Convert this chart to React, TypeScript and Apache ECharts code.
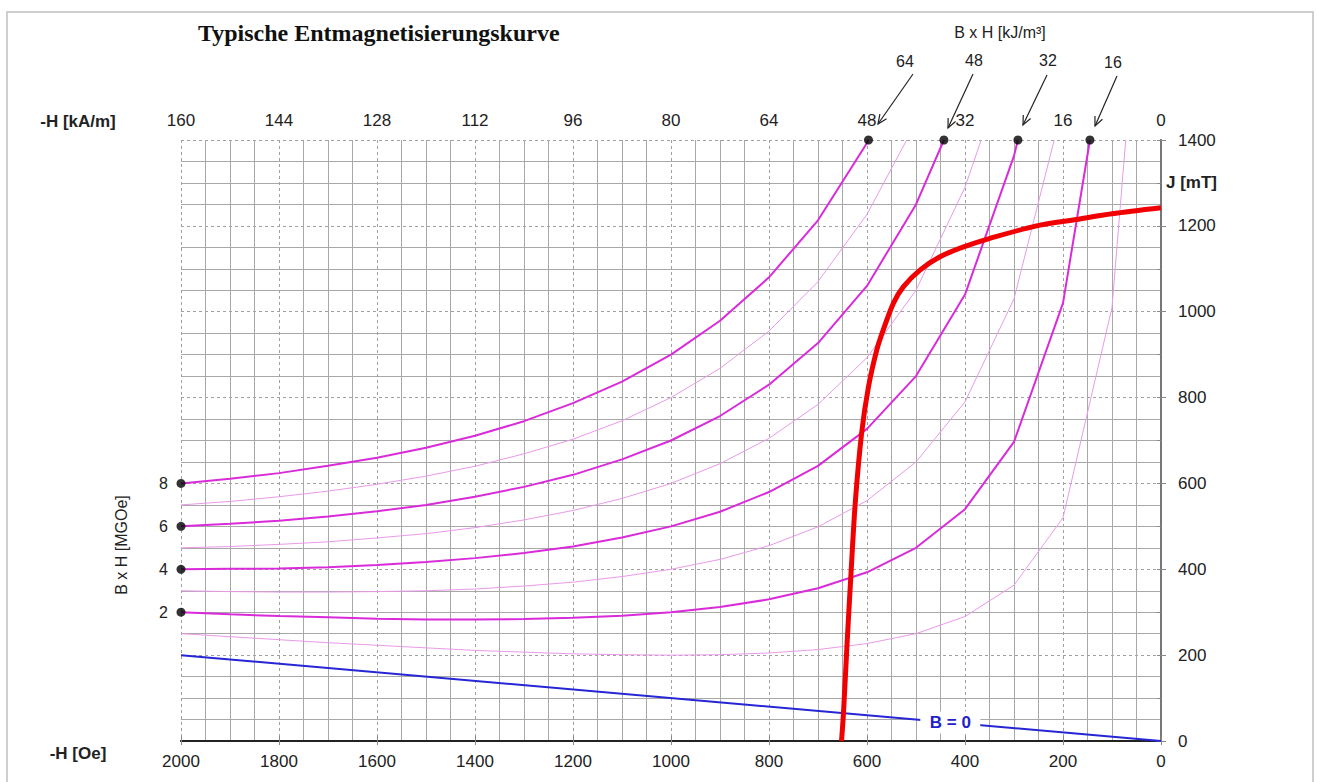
import React, { useEffect, useRef } from "react";
import * as echarts from "echarts";

// ---- data (H in Oe, J in mT) ----
const bh8 = [[2000,600],[1900,611],[1800,624],[1700,641],[1600,660],[1500,683],[1400,711],[1300,745],[1200,787],[1100,837],[1000,900],[900,979],[800,1080],[700,1213],[600,1393],[597,1400]];
const bh7 = [[2000,550],[1900,558],[1800,569],[1700,582],[1600,598],[1500,617],[1400,640],[1300,669],[1200,703],[1100,746],[1000,800],[900,868],[800,955],[700,1070],[600,1227],[519,1400]];
const bh6 = [[2000,500],[1900,506],[1800,513],[1700,523],[1600,535],[1500,550],[1400,569],[1300,592],[1200,620],[1100,656],[1000,700],[900,757],[800,830],[700,927],[600,1060],[500,1250],[443,1400]];
const bh5 = [[2000,450],[1900,453],[1800,458],[1700,464],[1600,473],[1500,483],[1400,497],[1300,515],[1200,537],[1100,565],[1000,600],[900,646],[800,705],[700,784],[600,893],[500,1050],[400,1290],[367,1400]];
const bh4 = [[2000,400],[1900,401],[1800,402],[1700,405],[1600,410],[1500,417],[1400,426],[1300,438],[1200,453],[1100,474],[1000,500],[900,534],[800,580],[700,641],[600,727],[500,850],[400,1040],[300,1363],[292,1400]];
const bh3 = [[2000,350],[1900,348],[1800,347],[1700,347],[1600,348],[1500,350],[1400,354],[1300,361],[1200,370],[1100,383],[1000,400],[900,423],[800,455],[700,499],[600,560],[500,650],[400,790],[300,1030],[218,1400]];
const bh2 = [[2000,300],[1900,295],[1800,291],[1700,288],[1600,285],[1500,283],[1400,283],[1300,284],[1200,287],[1100,292],[1000,300],[900,312],[800,330],[700,356],[600,393],[500,450],[400,540],[300,697],[200,1020],[145,1400]];
const bh1 = [[2000,250],[1900,243],[1800,236],[1700,229],[1600,223],[1500,217],[1400,211],[1300,207],[1200,203],[1100,201],[1000,200],[900,201],[800,205],[700,213],[600,227],[500,250],[400,290],[300,363],[200,520],[100,1010],[72,1400]];
const demagJ = [[0,1242],[100,1228],[172,1215],[254,1200],[349,1171],[403,1151],[451,1128],[492,1097],[526,1058],[546,1020],[567,957],[580,911],[597,825],[611,717],[624,554],[633,383],[641,220],[648,65],[652,0]];
const bZero = [[2000,200],[0,0]];
const bZeroLabelAt = [430, 43];
const leftDots = [[2000,600],[2000,500],[2000,400],[2000,300]];
const topDots = [[597,1400],[443,1400],[292,1400],[145,1400]];

// tick labels
const mgoeTicks = [300, 400, 500, 600];
const mgoeLabels = ["2", "4", "6", "8"];
const kjLabels = ["64", "48", "32", "16"];

const FONT = '"Liberation Sans", Arial, Helvetica, sans-serif';
const THICK = "#d92bd9";
const THIN = "#e99ae9";
const plain = (v: number) => String(v);

function arrow(x1: number, y1: number, x2: number, y2: number) {
  const a = Math.atan2(y2 - y1, x2 - x1);
  const L = 10, w = 0.42;
  const p1 = [x2 - L * Math.cos(a - w), y2 - L * Math.sin(a - w)];
  const p2 = [x2 - L * Math.cos(a + w), y2 - L * Math.sin(a + w)];
  return [
    { type: "line", shape: { x1, y1, x2, y2 }, style: { stroke: "#222", lineWidth: 1.2 } },
    { type: "polyline", shape: { points: [p1, [x2, y2], p2] }, style: { stroke: "#222", lineWidth: 1.2, fill: null } },
  ];
}

function txt(text: string, x: number, y: number, opts: any = {}) {
  return {
    type: "text",
    x, y,
    rotation: opts.rotation || 0,
    style: {
      text,
      x: 0, y: 0,
      fill: opts.color || "#222",
      fontFamily: opts.family || FONT,
      fontSize: opts.size || 17,
      fontWeight: opts.bold ? "bold" : "normal",
      align: opts.align || "center",
      verticalAlign: "middle",
    },
    z: 100,
  };
}

export default function App() {
  const ref = useRef<HTMLDivElement>(null);
  useEffect(() => {
    if (!ref.current) return;
    const chart = echarts.init(ref.current, null, { renderer: "svg" });
    const lineSeries = (data: number[][], color: string, width: number) => ({
      type: "line",
      data,
      xAxisIndex: 0,
      yAxisIndex: 0,
      symbol: "none",
      showSymbol: false,
      clip: false,
      silent: true,
      lineStyle: { color, width },
    });
    const arrows = [
      ...arrow(913, 74, 878, 124),
      ...arrow(973, 74, 948, 128),
      ...arrow(1047, 75, 1023, 125),
      ...arrow(1117, 76, 1095, 126),
    ];
    const kjPos = [[905, 61], [974, 60], [1048, 60], [1113, 62]];
    const option: any = {
      animation: false,
      backgroundColor: "#fff",
      title: {
        text: "Typische Entmagnetisierungskurve",
        left: 193,
        top: 16,
        textStyle: { fontFamily: '"Liberation Serif", "Times New Roman", serif', fontWeight: "bold", fontSize: 24, color: "#111" },
      },
      grid: { left: 181, right: 156, top: 140, bottom: 41, containLabel: false },
      xAxis: [
        {
          type: "value", min: 0, max: 2000, interval: 200, inverse: true, position: "bottom",
          axisLine: { show: true, lineStyle: { color: "#555", width: 2 } },
          axisTick: { show: true, length: 4, lineStyle: { color: "#888" } },
          axisLabel: { color: "#222", fontSize: 17, fontFamily: FONT, margin: 12, showMinLabel: true, showMaxLabel: true, formatter: plain },
          splitLine: { show: true, lineStyle: { color: "#a0a0a0", type: [3, 3], width: 1 } },
          minorTick: { show: false, splitNumber: 4 },
          minorSplitLine: { show: true, lineStyle: { color: "#a8a8a8", width: 1 } },
        },
        {
          type: "value", min: 0, max: 160, interval: 16, inverse: true, position: "top",
          axisLine: { show: true, lineStyle: { color: "#222", width: 2 } },
          axisTick: { show: true, length: 5, lineStyle: { color: "#888" } },
          axisLabel: { color: "#222", fontSize: 17, fontFamily: FONT, margin: 11, showMinLabel: true, showMaxLabel: true, formatter: plain },
          splitLine: { show: false },
        },
      ],
      yAxis: [
        {
          type: "value", min: 0, max: 1400, interval: 200, position: "right",
          axisLine: { show: true, lineStyle: { color: "#777", width: 2 } },
          axisTick: { show: true, length: 5, lineStyle: { color: "#888" } },
          axisLabel: { color: "#222", fontSize: 17, fontFamily: FONT, margin: 17, showMinLabel: true, showMaxLabel: true, formatter: plain },
          splitLine: { show: true, lineStyle: { color: "#a0a0a0", type: [3, 3], width: 1 } },
          minorTick: { show: false, splitNumber: 4 },
          minorSplitLine: { show: true, lineStyle: { color: "#a8a8a8", width: 1 } },
        },
        {
          type: "value", min: 0, max: 1400, interval: 100, position: "left",
          axisLine: { show: true, lineStyle: { color: "#777", width: 2 } },
          axisTick: { show: true, length: 4, lineStyle: { color: "#888" } },
          axisLabel: {
            color: "#222", fontSize: 16, fontFamily: FONT, margin: 13,
            formatter: (v: number) => { const i = mgoeTicks.indexOf(v); return i >= 0 ? mgoeLabels[i] : ""; },
          },
          splitLine: { show: false },
        },
      ],
      series: [
        lineSeries(bh7, THIN, 1),
        lineSeries(bh5, THIN, 1),
        lineSeries(bh3, THIN, 1),
        lineSeries(bh1, THIN, 1),
        lineSeries(bh8, THICK, 2),
        lineSeries(bh6, THICK, 2),
        lineSeries(bh4, THICK, 2),
        lineSeries(bh2, THICK, 2),
        {
          ...lineSeries(bZero, "#2626d4", 2),
          markPoint: {
            silent: true,
            symbol: "rect",
            symbolSize: [60, 22],
            itemStyle: { color: "#ffffff" },
            label: {
              show: true, position: "inside", formatter: "B = 0", color: "#2222cc", fontWeight: "bold",
              fontSize: 17, fontFamily: FONT,
            },
            data: [{ coord: bZeroLabelAt }],
          },
        },
        { ...lineSeries(demagJ, "#f00000", 5), smooth: 0.3 },
        {
          type: "scatter", data: [...leftDots, ...topDots], symbol: "circle", symbolSize: 9,
          itemStyle: { color: "#000" }, clip: false, silent: true, z: 5,
        },
      ],
      graphic: [
        { type: "rect", shape: { x: 7, y: 12, width: 1306, height: 800 }, style: { fill: "none", stroke: "#cfcfcf", lineWidth: 2 }, z: -1, silent: true },
        txt("-H [kA/m]", 78, 121, { bold: true }),
        txt("-H [Oe]", 78, 753, { bold: true }),
        txt("J [mT]", 1166, 182, { bold: true, align: "left" }),
        txt("B x H [kJ/m³]", 1000, 32, { size: 16 }),
        ...kjLabels.map((t, i) => txt(t, kjPos[i][0], kjPos[i][1], { size: 16 })),
        ...arrows.map((a) => ({ ...a, z: 100, silent: true })),
        txt("B x H [MGOe]", 121, 545, { size: 16, rotation: Math.PI / 2 }),
      ],
    };
    chart.setOption(option);
    return () => chart.dispose();
  }, []);
  return (
    <div
      ref={ref}
      style={{ position: "fixed", left: 0, top: 0, width: 1317, height: 782, background: "#fff" }}
    />
  );
}
